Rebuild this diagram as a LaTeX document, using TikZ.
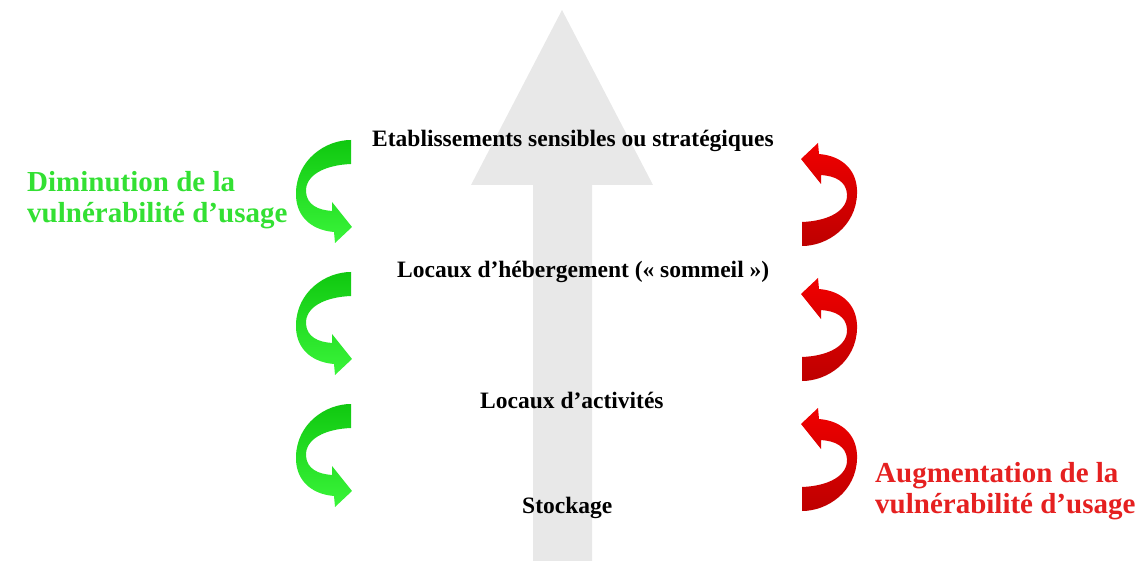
\documentclass[tikz,border=0pt]{standalone}
\usepackage{fontspec}
\setmainfont{Liberation Serif}
\definecolor{arrowgray}{HTML}{E8E8E8}
\definecolor{gtext}{HTML}{33E033}
\definecolor{rtext}{HTML}{E52020}
\definecolor{gdark}{HTML}{10C810}
\definecolor{glight}{HTML}{3AF53A}
\definecolor{rlight}{HTML}{F00000}
\definecolor{rdark}{HTML}{BE0000}
\begin{document}
\begin{tikzpicture}[x=1pt,y=-1pt,
  lab/.style={font=\fontsize{23.5}{28}\selectfont\bfseries, anchor=base west, inner sep=0pt, text=black},
  side/.style={font=\fontsize{29}{34}\selectfont\bfseries, anchor=base west, inner sep=0pt},
  bend arrow/.pic={
    \path[pic actions] (27,-52) -- (27,-28)
      .. controls (1,-27) and (-19,-17) .. (-18,0)
      .. controls (-17,13) and (-6,18) .. (8,19)
      -- (8,10) -- (28,35) -- (11,51) -- (10,40)
      .. controls (-14,38) and (-29,23) .. (-28,0)
      .. controls (-27,-32) and (1,-52) .. (27,-52) -- cycle;
  }]
\useasboundingbox (0,0) rectangle (1140,561);
% big gray arrow
\fill[arrowgray] (533,561) -- (533,185) -- (471,185) -- (562,10) -- (653,185) -- (592,185) -- (592,561) -- cycle;
% level labels
\node[lab] (t1) at (372,147) {Etablissements sensibles ou stratégiques};
\node[lab] (t2) at (397,278) {Locaux d’hébergement (« sommeil »)};
\node[lab] (t3) at (480,408) {Locaux d’activités};
\node[lab] (t4) at (522,513) {Stockage};
% green arrows
\pic[draw=none, top color=gdark, bottom color=glight] (ga1) at (324,192) {bend arrow};
\pic[draw=none, top color=gdark, bottom color=glight] (ga2) at (324,324) {bend arrow};
\pic[draw=none, top color=gdark, bottom color=glight] (ga3) at (324,456) {bend arrow};
% red arrows
\pic[draw=none, rotate=180, top color=rlight, bottom color=rdark] (ra1) at (829,194) {bend arrow};
\pic[draw=none, rotate=180, top color=rlight, bottom color=rdark] (ra2) at (829,329) {bend arrow};
\pic[draw=none, rotate=180, top color=rlight, bottom color=rdark] (ra3) at (829,459) {bend arrow};
% side texts
\node[side, text=gtext] (g1) at (27,192) {Diminution de la};
\node[side, text=gtext] (g2) at (27,223) {vulnérabilité d’usage};
\node[side, text=rtext] (r1) at (875,482) {Augmentation de la};
\node[side, text=rtext] (r2) at (875,513) {vulnérabilité d’usage};
\end{tikzpicture}
\end{document}
